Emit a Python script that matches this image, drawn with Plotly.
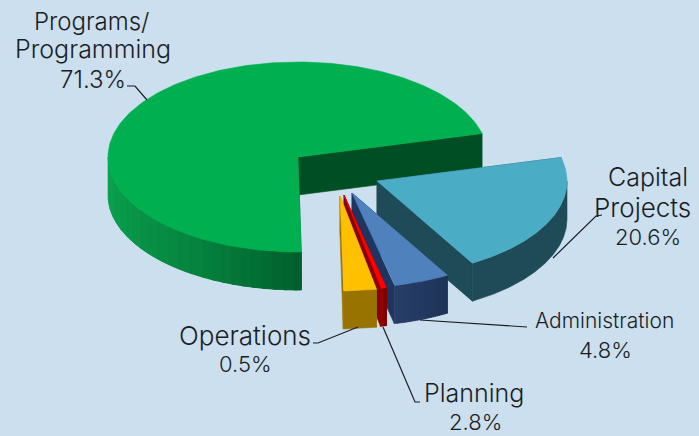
import numpy as np
import plotly.graph_objects as go

# ---- data ----
label_lines = [["Programs/", "Programming"], ["Capital", "Projects"], ["Administration"], ["Planning"], ["Operations"]]
shown_percent = [71.3, 20.6, 4.8, 2.8, 0.5]
# the picture draws the wedge led to "Operations" wider than the one led to "Planning"
wedge_percent = [71.3, 20.6, 4.8, 0.5, 2.8]

# ---- style ----
BG = "#CBDFEE"
INK = "#1A1D25"
TOP = ["#00B050", "#4BACC6", "#4F81BD", "#FF0000", "#FFC000"]
OUTER_A = [(11, 162, 79), (31, 74, 87), (38, 62, 104), (153, 0, 0), (152, 115, 0)]
OUTER_B = [(0, 96, 44), (31, 74, 87), (31, 52, 88), (128, 0, 0), (152, 115, 0)]
CUT = ["#004F24", "#1F4A57", "#1F3560", "#8A0000", "#987300"]
EXPLODE = [(0, 0), (79, 24), (54, 36), (46, 38), (42, 39)]
CENTER = (298, 157)
RX, RY, DEPTH = 190, 95, 38
START_DEG = 14.3
FONT = "Inter"

fig = go.Figure()


def poly(px, py, color):
    fig.add_trace(go.Scatter(x=px, y=py, mode="lines", fill="toself", fillcolor=color,
                             line=dict(color=color, width=0.6), hoverinfo="skip", showlegend=False))


# wedges run counter-clockwise from the start angle: Programs, Operations, Planning, Administration, Capital
order = [0, 4, 3, 2, 1]
spans = {}
a = START_DEG
for i in order:
    spans[i] = (a, a + wedge_percent[i] * 3.6)
    a += wedge_percent[i] * 3.6

for i in range(5):
    a0, a1 = spans[i]
    cx, cy = CENTER[0] + EXPLODE[i][0], CENTER[1] + EXPLODE[i][1]
    deg = np.linspace(a0, a1, 241)
    t = np.radians(deg)
    ax = cx + RX * np.cos(t)
    ay = cy - RY * np.sin(t)
    for k in (0, -1):
        poly([cx, ax[k], ax[k], cx, cx], [cy, ay[k], ay[k] + DEPTH, cy + DEPTH, cy], CUT[i])
    # front-facing outer wall: strips shaded left to right, each running on under the next one
    idx = np.where(np.sin(t) <= 0)[0]
    if len(idx) > 1:
        n_strips = 24 if OUTER_A[i] != OUTER_B[i] and len(idx) > 48 else 1
        chunks = np.array_split(idx, n_strips)
        for n, ch in enumerate(chunks):
            ch = np.arange(ch[0], min(ch[-1] + 6, idx[-1] + 1))
            f = n / max(len(chunks) - 1, 1)
            col = "rgb(%d,%d,%d)" % tuple(round(p + (q - p) * f ** 1.3) for p, q in zip(OUTER_A[i], OUTER_B[i]))
            fx, fy = ax[ch], ay[ch]
            poly(list(fx) + list(fx[::-1] ) + [fx[0]], list(fy) + list(fy[::-1] + DEPTH) + [fy[0]], col)
    poly([cx] + list(ax) + [cx], [cy] + list(ay) + [cy], TOP[i])

# ---- text: (x, y, size) for each line of each label, percent line last ----
text_layout = [
    [(91, 21, 24), (93, 49, 25), (93, 79, 24)],
    [(648, 177, 25), (642, 207, 26), (648, 237, 22)],
    [(604, 320, 21), (605, 350, 22)],
    [(474, 393, 25), (475, 422, 22)],
    [(245, 335, 26), (245, 364, 22)],
]
for lines, val, spots in zip(label_lines, shown_percent, text_layout):
    for txt, (x, y, s) in zip(lines + [f"{val}%"], spots):
        fig.add_annotation(x=x, y=y, text=txt, showarrow=False,
                           font=dict(family=FONT, size=s, color=INK, weight=300),
                           xanchor="center", yanchor="middle")

# ---- leader lines ----
leaders = [
    [(127, 86), (135, 86), (147, 100)],
    [(602, 215), (596, 216), (553, 258)],
    [(527, 327), (420, 320)],
    [(383, 327), (415, 402), (420, 402)],
    [(313, 343), (318, 343), (358, 327)],
]
for seg in leaders:
    fig.add_trace(go.Scatter(x=[p[0] for p in seg], y=[p[1] for p in seg], mode="lines",
                             line=dict(color=INK, width=1.2), hoverinfo="skip", showlegend=False))

fig.update_layout(width=699, height=436, margin=dict(l=0, r=0, t=0, b=0),
                  paper_bgcolor=BG, plot_bgcolor=BG, showlegend=False,
                  xaxis=dict(range=[0, 699], visible=False, fixedrange=True),
                  yaxis=dict(range=[436, 0], visible=False, fixedrange=True))
fig.write_html("out.html", post_script="document.body.style.margin='0';document.body.style.background='%s';" % BG,
               config=dict(displayModeBar=False))
